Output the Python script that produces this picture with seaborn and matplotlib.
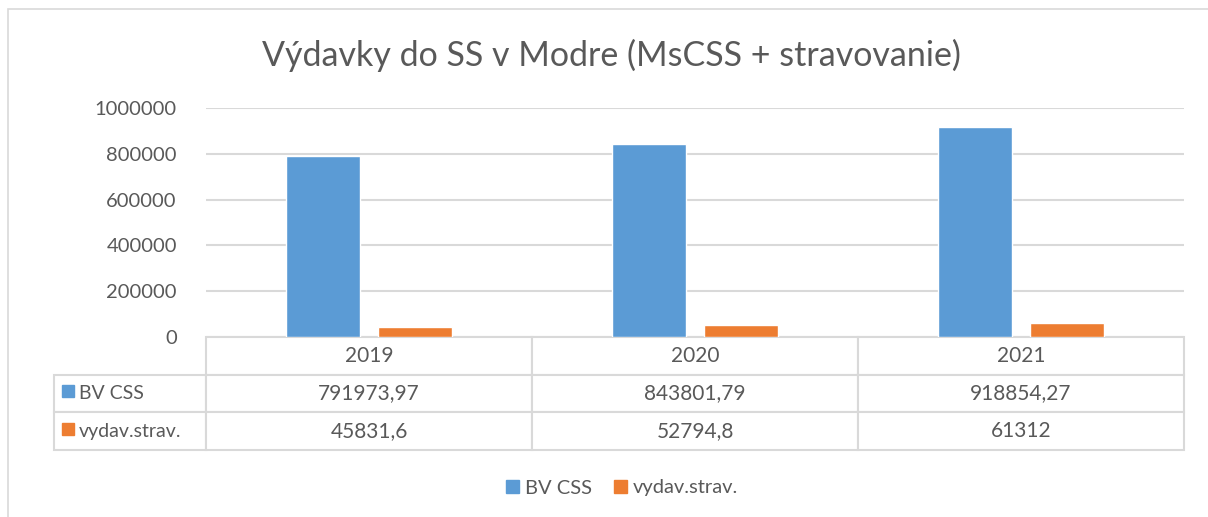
import pandas as pd
import numpy as np
import matplotlib.pyplot as plt
import seaborn as sns
from matplotlib.patches import Rectangle

# ---- data ----
years = ['2019', '2020', '2021']
series_names = ['BV CSS', 'vydav.strav.']
bv_css = [791973.97, 843801.79, 918854.27]
vydav_strav = [45831.6, 52794.8, 61312]
bv_css_txt = ['791973,97', '843801,79', '918854,27']
vydav_strav_txt = ['45831,6', '52794,8', '61312']
y_ticks = [0, 200000, 400000, 600000, 800000, 1000000]

colors = ['#5B9BD5', '#ED7D31']
text_gray = '#595959'
grid_gray = '#D9D9D9'

df = pd.DataFrame({
    'rok': years * 2,
    'seria': [series_names[0]] * 3 + [series_names[1]] * 3,
    'hodnota': bv_css + vydav_strav,
})

sns.set_theme(style='white')
plt.rcParams['font.family'] = ['Lato', 'DejaVu Sans']

W, H = 1208, 517
fig = plt.figure(figsize=(W / 100, H / 100), dpi=100)

# pozicia grafu v pixeloch
x0, x1 = 206, 1184
y_top, y_zero = 108, 337
ax = fig.add_axes([x0 / W, 1 - y_zero / H, (x1 - x0) / W, (y_zero - y_top) / H])

# ramik okolo grafu (ako v Exceli)
fig.patches.append(Rectangle((8 / W, -0.1), 1.2, 1 - 9 / H + 0.1, transform=fig.transFigure,
                             fill=False, edgecolor=grid_gray, linewidth=1.2))

sns.barplot(data=df, x='rok', y='hodnota', hue='seria', palette=colors,
            width=0.565, gap=0.2, ax=ax, legend=False, saturation=1)

ax.set_yticks(y_ticks)
ax.set_yticklabels([str(t) for t in y_ticks], fontsize=14.5, color=text_gray)
ax.tick_params(axis='y', length=0, pad=21)
ax.set_xticks([])
ax.set_xlabel('')
ax.set_ylabel('')
ax.yaxis.grid(True, color=grid_gray, linewidth=1.5)
ax.set_axisbelow(True)
for s in ax.spines.values():
    s.set_visible(False)

# ---- tabulka s udajmi ----
lab_w = (206 - 54) / (x1 - x0)
tab_h = (450 - 337) / (y_zero - y_top)
cell_text = [[''] + years,
             [series_names[0]] + bv_css_txt,
             [series_names[1]] + vydav_strav_txt]
tab = ax.table(cellText=cell_text, cellLoc='center',
               colWidths=[lab_w, 1 / 3, 1 / 3, 1 / 3],
               bbox=[-lab_w, -tab_h, 1 + lab_w, tab_h])
tab.auto_set_font_size(False)
tab.set_fontsize(15)
for (r, c), cell in tab.get_celld().items():
    cell.set_edgecolor(grid_gray)
    cell.set_linewidth(1.5)
    cell.get_text().set_color(text_gray)
    if r == 0 and c == 0:
        cell.visible_edges = ''
    if c == 0 and r > 0:
        cell._loc = 'left'
        cell.get_text().set_ha('left')
        cell.get_text().set_fontsize(14)
        cell.PAD = 0.165

# farebne stvorceky pred nazvami serii
for i, col in enumerate(colors):
    ax.add_patch(Rectangle(((62 - x0) / (x1 - x0), -(397 + 38 * i - y_zero) / (y_zero - y_top)),
                           12 / (x1 - x0), 12 / (y_zero - y_top), color=col,
                           transform=ax.transAxes, clip_on=False))

ax.set_xlim(-0.5, 2.5)
ax.set_ylim(0, 1000000)

# ---- nadpis ----
fig.text(611 / W, 1 - 55 / H, 'Výdavky do SS v Modre (MsCSS + stravovanie)',
         ha='center', va='center', fontsize=24.5, color=text_gray)

# ---- legenda ----
handles = [Rectangle((0, 0), 1, 1, color=c) for c in colors]
fig.legend(handles, series_names, loc='center', bbox_to_anchor=(622 / W, 1 - 488 / H),
           ncol=2, frameon=False, fontsize=14.5, handlelength=0.65, handleheight=0.65,
           handletextpad=0.3, columnspacing=1.1, labelcolor=text_gray)

plt.savefig('out.png', dpi=100)
